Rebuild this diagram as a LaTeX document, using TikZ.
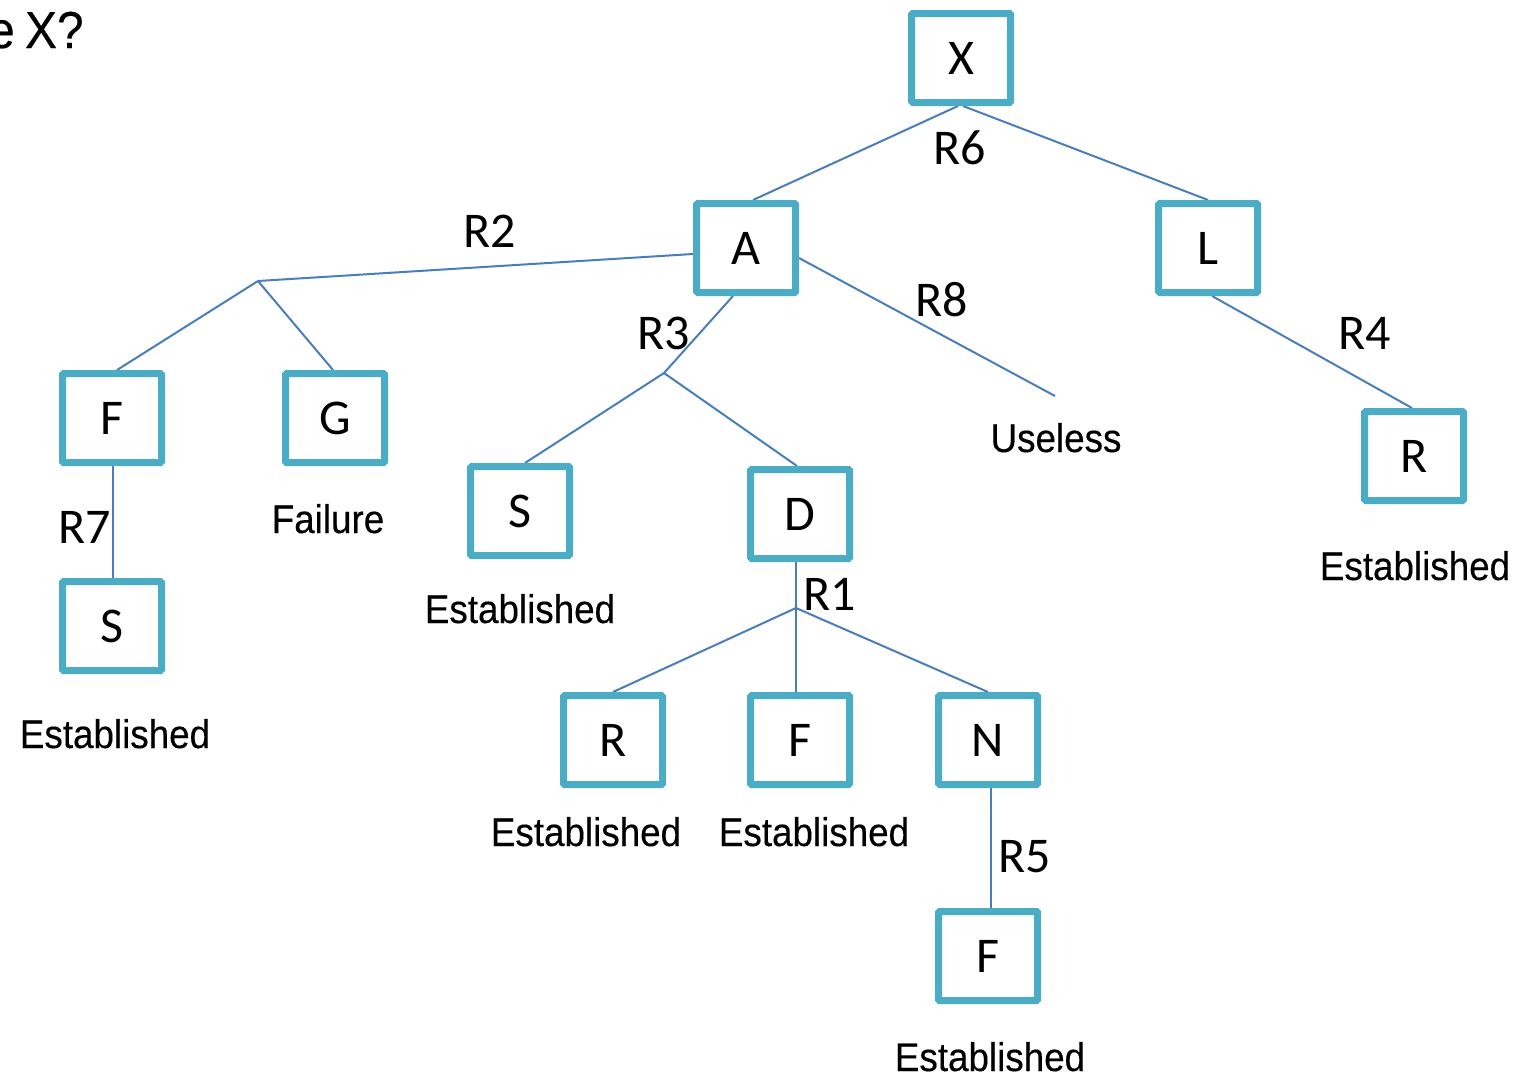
\documentclass[tikz,border=0pt]{standalone}
\usepackage{fontspec}
\newfontfamily\boxfont{Carlito}
\newfontfamily\notefont[FakeStretch=0.92,FakeBold=0.3]{Liberation Sans}
\usetikzlibrary{calc}
\pgfdeclarelayer{bg}
\pgfsetlayers{bg,main}
\definecolor{boxteal}{HTML}{4BACC6}
\definecolor{linkblue}{HTML}{4A7EBB}
\begin{document}
\begin{tikzpicture}[x=0.5pt,y=-0.5pt,
  tbox/.style={draw=boxteal, line width=3.5pt, fill=white,
    minimum width=49.5pt, minimum height=44.5pt, inner sep=0pt,
    rounded corners=0.6pt, font=\boxfont\fontsize{25}{30}\selectfont},
  rlab/.style={inner sep=0pt, font=\boxfont\fontsize{25}{30}\selectfont},
  note/.style={inner sep=0pt, anchor=base, font=\notefont\fontsize{20}{24}\selectfont},
  link/.style={draw=linkblue, line width=1pt}]
\useasboundingbox (0,0) rectangle (1524,1076);

% question fragment at the top left
\node[note, anchor=base east, font=\notefont\fontsize{26}{30}\selectfont] (q) at (84,48) {e\kern-1.5pt\ X?};

% tree nodes
\node[tbox] (X)  at (961,58)   {X};
\node[tbox] (A)  at (746,248)  {A};
\node[tbox] (L)  at (1208,248) {L};
\node[tbox] (F1) at (112,418)  {F};
\node[tbox] (G)  at (335,418)  {G};
\node[tbox] (S1) at (520,511)  {S};
\node[tbox] (D)  at (800,514)  {D};
\node[tbox] (R1) at (1414,456) {R};
\node[tbox] (S2) at (112,626)  {S};
\node[tbox] (R2) at (613,740)  {R};
\node[tbox] (F2) at (800,740)  {F};
\node[tbox] (N)  at (988,740)  {N};
\node[tbox] (F3) at (988,956)  {F};

% branch points
\coordinate (j2) at (258,281);
\coordinate (j3) at (664,373);
\coordinate (j1) at (796,608);
\coordinate (u)  at (1055,396);

% connectors
\begin{pgfonlayer}{bg}
\draw[link] ($(X.south)+(-3,0)$) -- ($(A.north)+(7,0)$);
\draw[link] ($(X.south)+(2,0)$) -- (L.north);
\draw[link] ($(A.west)+(0,6)$) -- (j2);
\draw[link] (j2) -- ($(F1.north)+(5,0)$);
\draw[link] (j2) -- ($(G.north)+(-2,0)$);
\draw[link] ($(A.south)+(-13,0)$) -- (j3);
\draw[link] (j3) -- ($(S1.north)+(5,0)$);
\draw[link] (j3) -- ($(D.north)+(-3,0)$);
\draw[link] ($(A.east)+(0,10)$) -- (u);
\draw[link] ($(L.south)+(4,0)$) -- ($(R1.north)+(-2,0)$);
\draw[link] ($(F1.south)+(1,0)$) -- ($(S2.north)+(1,0)$);
\draw[link] ($(D.south)+(-4,0)$) -- (j1);
\draw[link] (j1) -- (R2.north);
\draw[link] (j1) -- ($(F2.north)+(-4,0)$);
\draw[link] (j1) -- (N.north);
\draw[link] ($(N.south)+(3,0)$) -- ($(F3.north)+(3,0)$);
\end{pgfonlayer}

% rule labels
\node[rlab] (r6) at (960,148) {R6};
\node[rlab] (r2) at (490,231) {R2};
\node[rlab] (r3) at (664,333) {R3};
\node[rlab] (r8) at (942,300) {R8};
\node[rlab] (r4) at (1365,333) {R4};
\node[rlab] (r7) at (85,527) {R7};
\node[rlab] (r1) at (830,594) {R1};
\node[rlab] (r5) at (1025,857) {R5};

% outcomes
\node[note] (o1) at (328,533)  {Failure};
\node[note] (o2) at (1056,452) {Useless};
\node[note] (o3) at (520,623)  {Established};
\node[note] (o4) at (115,748)  {Established};
\node[note] (o5) at (586,846)  {Established};
\node[note] (o6) at (814,846)  {Established};
\node[note] (o7) at (990,1071) {Established};
\node[note] (o8) at (1415,580) {Established};
\end{tikzpicture}
\end{document}
